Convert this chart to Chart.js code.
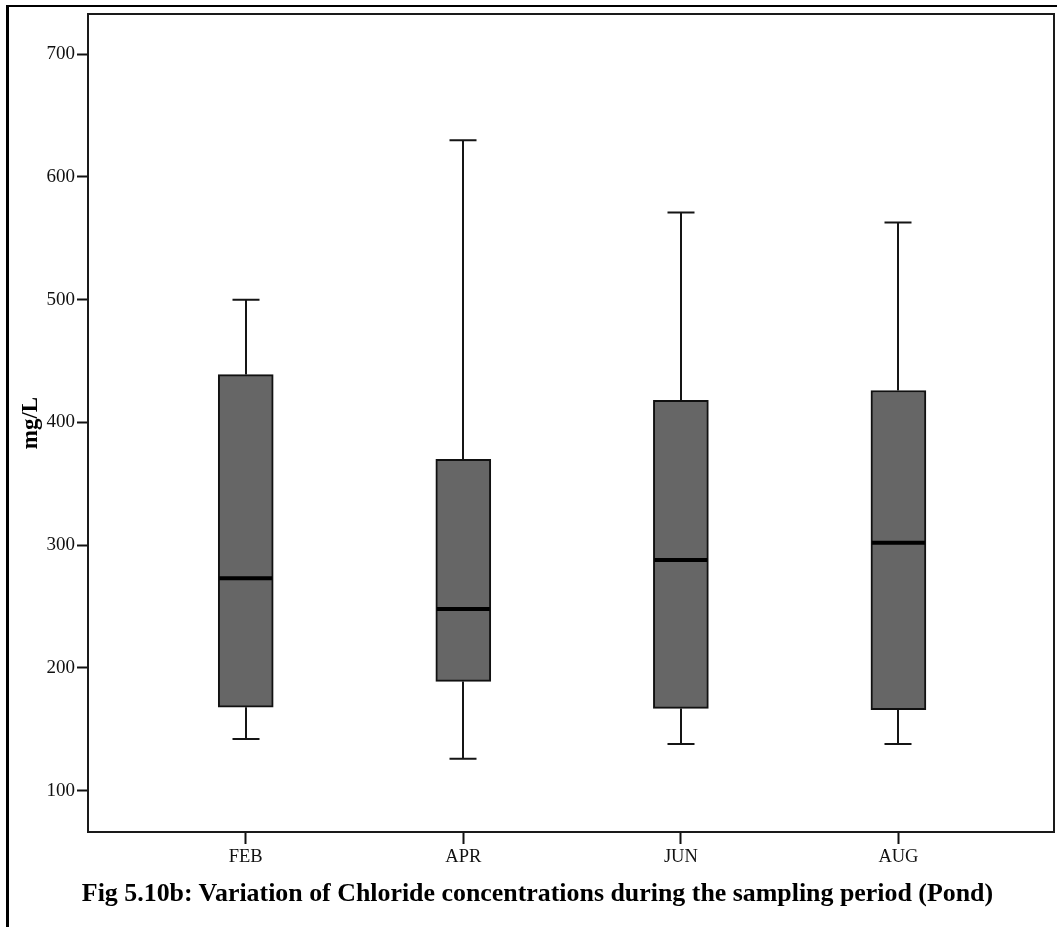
<!DOCTYPE html>
<html>
<head>
<meta charset="utf-8">
<title>Chloride concentrations (Pond)</title>
<script src="https://cdn.jsdelivr.net/npm/chart.js@4.4.1/dist/chart.umd.min.js"></script>
<style>
  html, body { margin: 0; padding: 0; background: #fff; overflow: hidden; }
  #wrap { position: relative; width: 1057px; height: 927px; }
  #frame {
    position: absolute; left: 6px; top: 5px; width: 2000px; height: 2000px;
    border-top: 2px solid #000; border-left: 3px solid #000; pointer-events: none;
  }
  #caption {
    position: absolute; left: 18px; right: 0; top: 878px;
    text-align: center; white-space: nowrap;
    font-family: "Liberation Serif", "Times New Roman", serif;
    font-weight: bold; font-size: 25.9px; line-height: 30px; color: #000;
  }
</style>
</head>
<body>
<div id="wrap">
  <canvas id="chart" width="1057" height="927"></canvas>
  <div id="frame"></div>
  <div id="caption">Fig 5.10b: Variation of Chloride concentrations during the sampling period (Pond)</div>
</div>
<script>
// Sampling months and five-number summaries of chloride (mg/L)
const months    = ['FEB', 'APR', 'JUN', 'AUG'];
const whiskerLo = [142, 126, 138, 138];
const quart1    = [168, 189, 167, 166];
const medians   = [273, 248, 288, 302];
const quart3    = [439, 370, 418, 426];
const whiskerHi = [500, 630, 571, 563];
const yTicks    = [100, 200, 300, 400, 500, 600, 700];

const SERIF = '"Liberation Serif", "Times New Roman", serif';

// Whiskers (behind the boxes), medians (on top) and the plot frame
const boxExtras = {
  id: 'boxExtras',
  beforeDatasetsDraw(chart) {
    const {ctx, scales: {x, y}} = chart;
    ctx.save();
    ctx.strokeStyle = '#151515';
    ctx.lineWidth = 2;
    const cap = 27;
    months.forEach((m, i) => {
      const cx = Math.round(x.getPixelForValue(i));
      const yHi = y.getPixelForValue(whiskerHi[i]);
      const yLo = y.getPixelForValue(whiskerLo[i]);
      const yQ1 = y.getPixelForValue(quart1[i]);
      const yQ3 = y.getPixelForValue(quart3[i]);
      ctx.beginPath();
      ctx.moveTo(cx, yQ3); ctx.lineTo(cx, yHi);
      ctx.moveTo(cx, yQ1); ctx.lineTo(cx, yLo);
      ctx.moveTo(cx - cap / 2, yHi); ctx.lineTo(cx + cap / 2, yHi);
      ctx.moveTo(cx - cap / 2, yLo); ctx.lineTo(cx + cap / 2, yLo);
      ctx.stroke();
    });
    ctx.restore();
  },
  afterDatasetsDraw(chart) {
    const {ctx, scales: {y}} = chart;
    const meta = chart.getDatasetMeta(0);
    ctx.save();
    ctx.strokeStyle = '#000';
    ctx.lineWidth = 4;
    meta.data.forEach((el, i) => {
      const my = y.getPixelForValue(medians[i]);
      ctx.beginPath();
      ctx.moveTo(el.x - el.width / 2 + 1, my);
      ctx.lineTo(el.x + el.width / 2 - 1, my);
      ctx.stroke();
    });
    ctx.restore();
  },
  afterDraw(chart) {
    const {ctx, chartArea: a} = chart;
    ctx.save();
    ctx.strokeStyle = '#1a1a1a';
    ctx.lineWidth = 2;
    ctx.strokeRect(a.left, a.top, a.right - a.left, a.bottom - a.top);
    ctx.restore();
  }
};

new Chart(document.getElementById('chart'), {
  type: 'bar',
  data: {
    datasets: [{
      label: 'Chloride',
      data: months.map((m, i) => ({x: i, y: [quart1[i], quart3[i]]})),
      backgroundColor: '#666666',
      borderColor: '#111',
      borderWidth: 2,
      borderSkipped: false,
      barThickness: 55
    }]
  },
  options: {
    responsive: false,
    animation: false,
    events: [],
    layout: {padding: {left: 10, top: 14, right: 3, bottom: 0}},
    plugins: {legend: {display: false}, tooltip: {enabled: false}, title: {display: false}},
    scales: {
      x: {
        type: 'linear',
        offset: false,
        min: -0.725,
        max: 3.715,
        afterFit(s) { s.height = 95; },
        afterBuildTicks(s) { s.ticks = months.map((m, i) => ({value: i})); },
        border: {display: false},
        grid: {display: true, offset: false, drawOnChartArea: false, drawTicks: true, tickLength: 12, tickWidth: 2, tickColor: '#111'},
        ticks: {
          color: '#111', padding: 2, maxRotation: 0, autoSkip: false,
          font: {family: SERIF, size: 18.5},
          callback: v => months[v]
        }
      },
      y: {
        type: 'linear',
        min: 66.3,
        max: 732.8,
        afterFit(s) { s.width = 78; },
        afterBuildTicks(s) { s.ticks = yTicks.map(v => ({value: v})); },
        border: {display: false},
        grid: {display: true, drawOnChartArea: false, drawTicks: true, tickLength: 11, tickWidth: 2, tickColor: '#111'},
        ticks: {color: '#111', padding: 2, font: {family: SERIF, size: 19}},
        title: {
          display: true, text: 'mg/L', color: '#000',
          font: {family: SERIF, size: 23, weight: 'bold'},
          padding: {top: 7, bottom: 0}
        }
      }
    }
  },
  plugins: [boxExtras]
});
</script>
</body>
</html>
